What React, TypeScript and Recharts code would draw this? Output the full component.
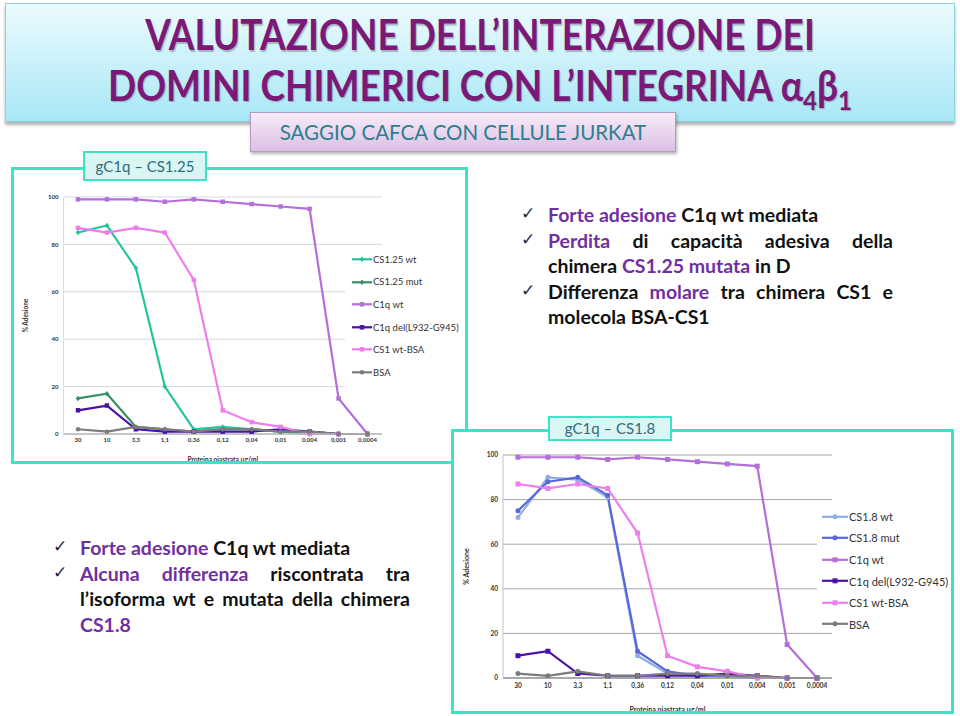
import React from "react";
import { LineChart, Line, XAxis, YAxis, CartesianGrid, Legend } from "recharts";

const doses = ["30", "10", "3,3", "1,1", "0,36", "0,12", "0,04", "0,01", "0,004", "0,001", "0,0004"];
const yTicks = [0, 20, 40, 60, 80, 100];

// gC1q - CS1.25
const cs125Wt = [85, 88, 70, 20, 2, 3, 2, 1, 0, 0, 0];
const cs125Mut = [15, 17, 3, 2, 1, 2, 2, 1, 1, 0, 0];
const c1qWtA = [99, 99, 99, 98, 99, 98, 97, 96, 95, 15, 0];
const c1qDelA = [10, 12, 2, 1, 1, 1, 1, 2, 1, 0, 0];
const cs1BsaA = [87, 85, 87, 85, 65, 10, 5, 3, 0, 0, 0];
const bsaA = [2, 1, 3, 2, 1, 2, 2, 1, 1, 0, 0];

// gC1q - CS1.8
const cs18Wt = [72, 90, 89, 81, 10, 2, 1, 1, 0, 0, 0];
const cs18Mut = [75, 88, 90, 82, 12, 3, 1, 1, 0, 0, 0];
const c1qWtB = [99, 99, 99, 98, 99, 98, 97, 96, 95, 15, 0];
const c1qDelB = [10, 12, 2, 1, 1, 1, 1, 2, 1, 0, 0];
const cs1BsaB = [87, 85, 87, 85, 65, 10, 5, 3, 0, 0, 0];
const bsaB = [2, 1, 3, 1, 1, 2, 2, 1, 1, 0, 0];

type Shape = "square" | "diamond" | "circle";
type Series = { key: string; name: string; values: number[]; color: string; shape: Shape };

const seriesA: Series[] = [
  { key: "cs125Wt", name: "CS1.25 wt", values: cs125Wt, color: "#26c29c", shape: "diamond" },
  { key: "cs125Mut", name: "CS1.25 mut", values: cs125Mut, color: "#3b8f66", shape: "diamond" },
  { key: "c1qWt", name: "C1q wt", values: c1qWtA, color: "#b56fda", shape: "square" },
  { key: "c1qDel", name: "C1q del(L932-G945)", values: c1qDelA, color: "#4a12a8", shape: "square" },
  { key: "cs1Bsa", name: "CS1 wt-BSA", values: cs1BsaA, color: "#ee7eec", shape: "square" },
  { key: "bsa", name: "BSA", values: bsaA, color: "#7c7c7c", shape: "circle" },
];

const seriesB: Series[] = [
  { key: "cs18Wt", name: "CS1.8 wt", values: cs18Wt, color: "#8eaee2", shape: "circle" },
  { key: "cs18Mut", name: "CS1.8 mut", values: cs18Mut, color: "#5867dc", shape: "circle" },
  { key: "c1qWt", name: "C1q wt", values: c1qWtB, color: "#b56fda", shape: "square" },
  { key: "c1qDel", name: "C1q del(L932-G945)", values: c1qDelB, color: "#4a12a8", shape: "square" },
  { key: "cs1Bsa", name: "CS1 wt-BSA", values: cs1BsaB, color: "#ee7eec", shape: "square" },
  { key: "bsa", name: "BSA", values: bsaB, color: "#7c7c7c", shape: "circle" },
];

const toRows = (series: Series[]) =>
  doses.map((d, i) => {
    const row: any = { dose: d };
    series.forEach((s) => (row[s.key] = s.values[i]));
    return row;
  });

const marker = (shape: Shape, color: string, size: number, cx: number, cy: number, key?: string) => {
  const h = size / 2;
  if (shape === "square") return <rect key={key} x={cx - h} y={cy - h} width={size} height={size} fill={color} />;
  if (shape === "diamond")
    return <polygon key={key} points={`${cx},${cy - h - 0.5} ${cx + h},${cy} ${cx},${cy + h + 0.5} ${cx - h},${cy}`} fill={color} />;
  return <circle key={key} cx={cx} cy={cy} r={h} fill={color} />;
};

const dotFor = (s: Series, size: number) => (props: any) => {
  const { cx, cy, index } = props;
  if (cx == null || cy == null) return <g key={`d-${s.key}-${index}`} />;
  return marker(s.shape, s.color, size, cx, cy, `d-${s.key}-${index}`);
};

const font = "Lato, 'Open Sans', sans-serif";

type ChartProps = {
  series: Series[];
  left: number;
  top: number;
  width: number;
  height: number;
  margin: { top: number; right: number; left: number; bottom: number };
  xHeight: number;
  pad: number;
  gridColor: string;
  axisColor: string;
  yAxisColor: string;
  tickFont: number;
  titleFont: number;
  yTitleOffset: number;
  xTickMargin: number;
  legend: { x: number; y: number; w: number; h: number; row: number; lineW: number; font: number; indent: number };
  markSize: number;
};

const Chart = (p: ChartProps) => {
  const data = toRows(p.series);
  const lg = p.legend;
  // keep the series order of the original legend (recharts sorts the payload)
  const renderLegend = (props: any) => {
    const payload = props.payload || [];
    const entries = p.series
      .map((s) => ({ s, e: payload.find((e: any) => e.dataKey === s.key) }))
      .filter((x) => x.e);
    return (
      <div style={{ background: "#fff", width: lg.w, height: lg.h, fontFamily: font }}>
        {entries.map(({ s, e }) => (
          <div key={s.key} style={{ height: lg.row, display: "flex", alignItems: "center" }}>
            <svg width={lg.indent + lg.lineW} height={lg.row} style={{ display: "block" }}>
              <line x1={lg.indent} x2={lg.indent + lg.lineW} y1={lg.row / 2} y2={lg.row / 2} stroke={e.color} strokeWidth={2.2} />
              {marker(s.shape, e.color, p.markSize, lg.indent + lg.lineW / 2, lg.row / 2)}
            </svg>
            <span style={{ fontSize: lg.font, color: "#333", marginLeft: 1, whiteSpace: "nowrap" }}>{e.value}</span>
          </div>
        ))}
      </div>
    );
  };

  return (
    <div style={{ position: "absolute", left: p.left, top: p.top, width: p.width, height: p.height }}>
      <LineChart width={p.width} height={p.height} data={data} margin={p.margin} style={{ fontFamily: font }}>
        <CartesianGrid vertical={false} stroke={p.gridColor} strokeWidth={1} />
        <XAxis
          dataKey="dose"
          interval={0}
          padding={{ left: p.pad, right: p.pad }}
          height={p.xHeight}
          tickLine={false}
          tickSize={2}
          tickMargin={p.xTickMargin}
          axisLine={{ stroke: p.axisColor, strokeWidth: 1.5 }}
          tick={{ fontSize: p.tickFont, fontWeight: 700, fill: "#333" }}
          label={{
            value: "Proteina piastrata µg/ml",
            position: "insideBottom",
            offset: 1.5,
            style: { fontSize: p.titleFont, fontWeight: 700, fill: "#333" },
          }}
        />
        <YAxis
          width={30}
          domain={[0, 100]}
          ticks={yTicks}
          interval={0}
          tickLine={false}
          tickSize={4}
          tickMargin={1}
          axisLine={{ stroke: p.yAxisColor }}
          tick={{ fontSize: p.tickFont, fontWeight: 700, fill: "#333" }}
          label={{
            value: "% Adesione",
            angle: -90,
            position: "insideLeft",
            offset: p.yTitleOffset,
            style: { textAnchor: "middle", fontSize: p.titleFont, fontWeight: 700, fill: "#333" },
          }}
        />
        <Legend
          layout="vertical"
          align="center"
          verticalAlign="middle"
          content={renderLegend}
          wrapperStyle={{ left: lg.x, top: lg.y, width: lg.w, height: lg.h }}
        />
        {p.series.map((s) => (
          <Line
            key={s.key}
            type="linear"
            dataKey={s.key}
            name={s.name}
            stroke={s.color}
            strokeWidth={2.2}
            dot={dotFor(s, p.markSize)}
            activeDot={false}
            isAnimationActive={false}
          />
        ))}
      </LineChart>
    </div>
  );
};

const purple = "#7030a0";
const P = ({ children }: { children: React.ReactNode }) => <span style={{ color: purple }}>{children}</span>;

const Bullets = ({
  left,
  top,
  width,
  lines,
}: {
  left: number;
  top: number;
  width: number;
  lines: { check?: boolean; justify?: boolean; content: React.ReactNode }[];
}) => (
  <div style={{ position: "absolute", left, top, width: width + 26, fontFamily: font, fontWeight: 700, fontSize: 19.5, color: "#111" }}>
    {lines.map((l, i) => (
      <div key={i} style={{ position: "relative", height: 25.6, lineHeight: "25.6px", paddingLeft: 26, whiteSpace: "nowrap" }}>
        {l.check && (
          <span style={{ position: "absolute", left: -1, top: -1, fontSize: 17, fontWeight: 400, color: "#1f2a4a", fontFamily: "'DejaVu Sans'" }}>
            ✓
          </span>
        )}
        <div style={{ width, textAlign: "justify", textAlignLast: l.justify ? "justify" : "left", whiteSpace: "normal" }}>{l.content}</div>
      </div>
    ))}
  </div>
);

export default function App() {
  return (
    <div style={{ position: "absolute", left: 0, top: 0, width: 960, height: 716, background: "#fff", overflow: "hidden", fontFamily: font }}>
      {/* header */}
      <div
        style={{
          position: "absolute",
          left: 5,
          top: 3,
          width: 950,
          height: 119,
          background: "linear-gradient(#ecfbfe, #a8e7f6)",
          border: "1px solid #8fd0de",
          boxShadow: "0 3px 3px rgba(0,0,0,0.3)",
          boxSizing: "border-box",
        }}
      />
      <div
        style={{
          position: "absolute",
          left: 0,
          top: 9,
          width: 960,
          textAlign: "center",
          color: "#7b1878",
          fontWeight: 700,
          fontSize: 37,
          lineHeight: "45px",
          textShadow: "1px 1px 1px rgba(0,0,0,0.25)",
          transform: "scaleY(1.12)",
          transformOrigin: "50% 0",
        }}
      >
        <div>VALUTAZIONE DELL’INTERAZIONE DEI</div>
        <div>
          DOMINI CHIMERICI CON L’INTEGRINA α<sub style={{ fontSize: 24 }}>4</sub>β<sub style={{ fontSize: 24 }}>1</sub>
        </div>
      </div>
      <div
        style={{
          position: "absolute",
          left: 250,
          top: 112,
          width: 426,
          height: 40,
          background: "linear-gradient(#f7ecf9, #dbc0e4)",
          border: "1px solid #b79ac4",
          boxShadow: "1px 2px 3px rgba(0,0,0,0.3)",
          boxSizing: "border-box",
          textAlign: "center",
          lineHeight: "38px",
          fontSize: 20.5,
          color: "#2b7f8e",
        }}
      >
        SAGGIO CAFCA CON CELLULE JURKAT
      </div>

      {/* chart 1 */}
      <Chart
        series={seriesA}
        left={12}
        top={168}
        width={455}
        height={295}
        margin={{ top: 29, right: 85, left: 21.5, bottom: 0 }}
        xHeight={29}
        pad={14.48}
        gridColor="#d3d9e4"
        axisColor="#b8b8b8"
        yAxisColor="#dcdcdc"
        tickFont={6}
        titleFont={6.5}
        yTitleOffset={-7.5}
        xTickMargin={2}
        markSize={4.5}
        legend={{ x: 333, y: 80, w: 120, h: 141, row: 22.6, lineW: 20, font: 9.5, indent: 7 }}
      />
      <div style={{ position: "absolute", left: 11, top: 167, width: 457, height: 297, border: "3px solid #3ee2c6", boxSizing: "border-box" }} />
      <div
        style={{
          position: "absolute",
          left: 83,
          top: 151,
          width: 124,
          height: 30,
          background: "#d9f6f4",
          border: "2px solid #3ee2c6",
          boxSizing: "border-box",
          textAlign: "center",
          lineHeight: "26px",
          fontSize: 15,
          color: "#2f6c7a",
        }}
      >
        gC1q – CS1.25
      </div>

      {/* chart 2 */}
      <div style={{ position: "absolute", left: 451, top: 429, width: 503, height: 285, background: "#fff" }} />
      <Chart
        series={seriesB}
        left={452}
        top={430}
        width={500}
        height={283}
        margin={{ top: 25, right: 120, left: 21, bottom: 0 }}
        xHeight={35}
        pad={14.95}
        gridColor="#a6a6a6"
        axisColor="#9a9a9a"
        yAxisColor="#c4c4c4"
        tickFont={6.5}
        titleFont={7}
        yTitleOffset={-6}
        xTickMargin={3.5}
        markSize={5}
        legend={{ x: 365, y: 75.5, w: 135, h: 125, row: 21.6, lineW: 26, font: 11, indent: 5 }}
      />
      <div style={{ position: "absolute", left: 451, top: 429, width: 503, height: 285, border: "3px solid #3ee2c6", boxSizing: "border-box" }} />
      <div
        style={{
          position: "absolute",
          left: 548,
          top: 416,
          width: 124,
          height: 25,
          background: "#d9f6f4",
          border: "2px solid #3ee2c6",
          boxSizing: "border-box",
          textAlign: "center",
          lineHeight: "21px",
          fontSize: 15,
          color: "#2f6c7a",
        }}
      >
        gC1q – CS1.8
      </div>

      {/* text blocks */}
      <Bullets
        left={522}
        top={202}
        width={345}
        lines={[
          { check: true, content: <><P>Forte adesione</P> C1q wt mediata</> },
          { check: true, justify: true, content: <><P>Perdita</P> di capacità adesiva della</> },
          { content: <>chimera <P>CS1.25 mutata</P> in D</> },
          { check: true, justify: true, content: <>Differenza <P>molare</P> tra chimera CS1 e</> },
          { content: <>molecola BSA-CS1</> },
        ]}
      />
      <Bullets
        left={54}
        top={535}
        width={330}
        lines={[
          { check: true, content: <><P>Forte adesione</P> C1q wt mediata</> },
          { check: true, justify: true, content: <><P>Alcuna differenza</P> riscontrata tra</> },
          { justify: true, content: <>l’isoforma wt e mutata della chimera</> },
          { content: <P>CS1.8</P> },
        ]}
      />
    </div>
  );
}
